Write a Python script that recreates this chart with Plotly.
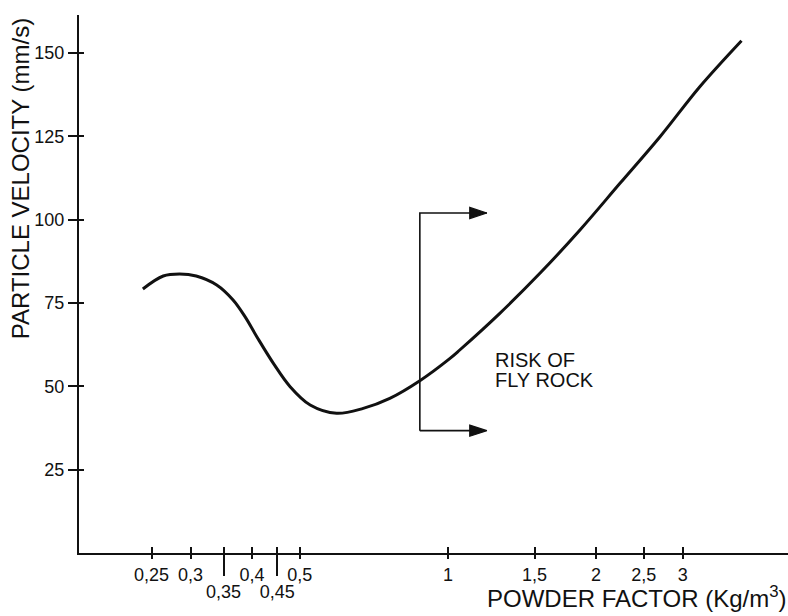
import math
import plotly.graph_objects as go

# ---- data ----
POWDER_FACTOR = [0.240, 0.264, 0.285, 0.308, 0.339, 0.366, 0.387, 0.409, 0.442, 0.478,
                 0.525, 0.594, 0.673, 0.762, 0.877, 1.01, 1.057, 1.275, 1.538, 1.855,
                 2.237, 2.698, 3.25, 3.95]
PARTICLE_VELOCITY = [79.2, 83.1, 83.7, 83.1, 80.4, 75.9, 70.9, 64.9, 56.9, 49.9,
                     44.4, 41.9, 43.4, 46.4, 51.7, 58.4, 60.9, 71.9, 83.9, 96.9,
                     110.9, 124.9, 139.9, 153.7]

X_TICKS_ROW1 = [0.25, 0.3, 0.4, 0.5, 1, 1.5, 2, 2.5, 3]
X_LABELS_ROW1 = ["0,25", "0,3", "0,4", "0,5", "1", "1,5", "2", "2,5", "3"]
X_TICKS_ROW2 = [0.35, 0.45]
X_LABELS_ROW2 = ["0,35", "0,45"]
Y_TICKS = [25, 50, 75, 100, 125, 150]
Y_LABELS = ["25", "50", "75", "100", "125", "150"]

# "risk of fly rock" bracket: upper arm (vertical + arrow) and lower arm (arrow)
BRACKET_UPPER_X = [0.877, 0.877, 1.2]
BRACKET_UPPER_Y = [36.7, 102, 102]
BRACKET_LOWER_X = [0.877, 1.2]
BRACKET_LOWER_Y = [36.7, 36.7]
RISK_TEXT_X = 1.233
RISK_LINES = ["RISK OF", "FLY ROCK"]
RISK_LINE_Y = [58.0, 51.9]

X_RANGE = [0.178, 4.91]
Y_RANGE = [0, 161.4]

FONT = "Liberation Sans"
INK = "#111111"

fig = go.Figure()

# main curve
fig.add_trace(go.Scatter(x=POWDER_FACTOR, y=PARTICLE_VELOCITY, mode="lines",
                         line=dict(color=INK, width=3, shape="spline", smoothing=1.0),
                         showlegend=False, hoverinfo="skip"))
# bracket with arrowheads at the arm ends
for bx, by in ((BRACKET_UPPER_X, BRACKET_UPPER_Y), (BRACKET_LOWER_X, BRACKET_LOWER_Y)):
    sizes = [0] * (len(bx) - 1) + [18]
    fig.add_trace(go.Scatter(x=bx, y=by, mode="lines+markers",
                             line=dict(color=INK, width=1.6),
                             marker=dict(symbol="arrow", angleref="previous", size=sizes,
                                         color=INK, opacity=1,
                                         line=dict(width=1.2, color=INK)),
                             showlegend=False, hoverinfo="skip"))

# helper traces for overlay axes (invisible)
fig.add_trace(go.Scatter(x=POWDER_FACTOR, y=PARTICLE_VELOCITY, xaxis="x2", yaxis="y",
                         mode="lines", line=dict(width=0), showlegend=False, hoverinfo="skip"))
fig.add_trace(go.Scatter(x=POWDER_FACTOR, y=PARTICLE_VELOCITY, xaxis="x3", yaxis="y",
                         mode="lines", line=dict(width=0), showlegend=False, hoverinfo="skip"))
fig.add_trace(go.Scatter(x=POWDER_FACTOR, y=PARTICLE_VELOCITY, xaxis="x", yaxis="y2",
                         mode="lines", line=dict(width=0), showlegend=False, hoverinfo="skip"))

xr = [math.log10(X_RANGE[0]), math.log10(X_RANGE[1])]
tickfont = dict(family=FONT, size=18, color=INK)

fig.update_layout(
    width=788, height=616,
    margin=dict(l=79, r=0, t=15, b=63),
    paper_bgcolor="white", plot_bgcolor="white",
    xaxis=dict(type="log", range=xr, tickmode="array", tickvals=X_TICKS_ROW1,
               ticktext=X_LABELS_ROW1, ticks="outside", ticklen=4, tickwidth=1.5,
               tickcolor=INK, showline=True, linewidth=2, linecolor=INK, automargin=False,
               showgrid=False, zeroline=False, tickfont=tickfont, anchor="y"),
    xaxis2=dict(type="log", range=xr, overlaying="x", side="bottom", anchor="y",
                tickmode="array", tickvals=X_TICKS_ROW2, ticktext=X_LABELS_ROW2,
                ticks="outside", ticklen=22, tickwidth=1.5, tickcolor=INK, automargin=False,
                showline=False, showgrid=False, zeroline=False, tickfont=tickfont),
    xaxis3=dict(type="log", range=xr, overlaying="x", side="bottom", anchor="y",
                tickmode="array", tickvals=X_TICKS_ROW1 + X_TICKS_ROW2,
                ticks="inside", ticklen=6, tickwidth=1.5, tickcolor=INK, automargin=False,
                showticklabels=False, showline=False, showgrid=False, zeroline=False),
    yaxis=dict(range=Y_RANGE, tickmode="array", tickvals=Y_TICKS, ticktext=Y_LABELS,
               ticks="outside", ticklen=9, tickwidth=1.5, tickcolor=INK, automargin=False,
               showline=True, linewidth=2, linecolor=INK, showgrid=False,
               zeroline=False, tickfont=tickfont, anchor="x"),
    yaxis2=dict(range=Y_RANGE, overlaying="y", side="left", anchor="x",
                tickmode="array", tickvals=Y_TICKS, ticks="inside", ticklen=5,
                tickwidth=1.5, tickcolor=INK, showticklabels=False, showline=False,
                showgrid=False, zeroline=False, automargin=False),
)

annotations = []
for line_text, line_y in zip(RISK_LINES, RISK_LINE_Y):
    annotations.append(dict(x=math.log10(RISK_TEXT_X), y=line_y, xref="x", yref="y",
                            text=line_text, showarrow=False, xanchor="left",
                            yanchor="middle", align="left",
                            font=dict(family=FONT, size=20, color=INK)))
annotations.append(dict(x=1, y=-0.082, xref="paper", yref="paper",
                        text="POWDER FACTOR (Kg/m<sup>3</sup>)", showarrow=False,
                        xanchor="right", yanchor="middle", borderpad=0,
                        font=dict(family=FONT, size=24, color=INK)))
annotations.append(dict(x=-0.083, y=0.695, xref="paper", yref="paper",
                        text="PARTICLE VELOCITY (mm/s)", showarrow=False, textangle=-90,
                        xanchor="center", yanchor="middle",
                        font=dict(family=FONT, size=24, color=INK)))
fig.update_layout(annotations=annotations)

fig.write_html("out.html", config={"displayModeBar": False},
               post_script="document.body.style.margin='0';")
